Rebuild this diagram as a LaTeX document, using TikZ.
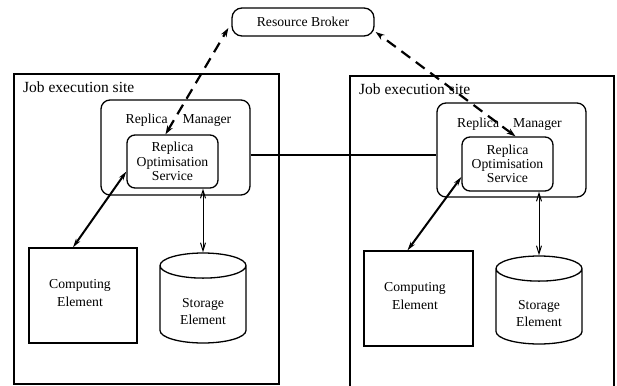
\documentclass[tikz,border=0pt]{standalone}
\usepackage{fontspec}
\setmainfont{Liberation Serif}
\usetikzlibrary{positioning,calc,shapes.geometric,arrows.meta}
\tikzset{
    box/.style={draw, line width=1.3pt, inner sep=0pt, align=center, font=\fontsize{13.7}{17.5}\selectfont},
    sitebox/.style={draw, line width=1.3pt, inner sep=0pt},
    rmbox/.style={box, rounded corners=9pt},
    rosbox/.style={box, rounded corners=8pt, font=\fontsize{13.7}{14.3}\selectfont},
    store/.style={box, cylinder, shape border rotate=90, aspect=0.55, anchor=shape center},
    sitelabel/.style={anchor=west, inner sep=0pt, font=\fontsize{15.5}{18}\selectfont},
    rmlabel/.style={inner sep=0pt, align=center, font=\fontsize{13.7}{17.3}\selectfont}
}
\newcommand{\storephantom}{\phantom{Storage}\\\phantom{Element}}

\begin{document}
\begin{tikzpicture}[
        x=1pt, y=-1pt,
        % Style cho mui ten
        thickarrow/.style={line width=2pt, {Stealth[length=9pt,width=5pt,open]}-{Stealth[length=9pt,width=5pt,open]}},
        thinarrow/.style={line width=1pt, {Straight Barb[length=8pt,width=5pt]}-{Straight Barb[length=8pt,width=5pt]}},
        brokerarrow/.style={line width=2.2pt, dash pattern=on 11pt off 7pt,
            {Stealth[length=9pt,width=6pt]}-{Stealth[length=9pt,width=6pt]}}
    ]
        \clip (0,0) rectangle (617,385);

        % --- RESOURCE BROKER ---
        \node[box, rounded corners=10pt, minimum width=142pt, minimum height=28pt] (rb) at (303,22) {Resource Broker};

        % --- SITE TRAI ---
        \node[sitebox, minimum width=265pt, minimum height=310pt] (lsite) at (146.5,229) {};
        \node[sitelabel] (lsitetxt) at (23,87) {Job execution site};
        \node[rmbox, minimum width=149pt, minimum height=95pt] (lrm) at (175.5,147.5) {};
        \node[rmlabel] (lrmtxt) at (178.5,120) {Replica\hspace{15pt}Manager};
        \node[rosbox, minimum width=91pt, minimum height=53pt] (lros) at (172.5,161.5) {Replica\\Optimisation\\Service};
        \node[box, minimum width=108pt, minimum height=95pt] (lce) at (83,295.5) {};
        \node[rmlabel] (lcetxt) at (80,293) {Computing\\Element};
        \node[store, minimum width=86pt, minimum height=90pt] (lse) at (203,298) {\storephantom};
        \node[rmlabel] (lsetxt) at (203,311.5) {Storage\\Element};

        % --- SITE PHAI ---
        \node[sitebox, minimum width=264pt, minimum height=330pt] (rsite) at (482,241) {};
        \node[sitelabel] (rsitetxt) at (359,89) {Job execution site};
        \node[rmbox, minimum width=149pt, minimum height=94pt] (rrm) at (511.5,150) {};
        \node[rmlabel] (rrmtxt) at (509.5,124) {Replica\hspace{14pt}Manager};
        \node[rosbox, minimum width=91pt, minimum height=54pt] (rros) at (507.5,164) {Replica\\Optimisation\\Service};
        \node[box, minimum width=109pt, minimum height=95pt] (rce) at (418.5,298.5) {};
        \node[rmlabel] (rcetxt) at (415,296) {Computing\\Element};
        \node[store, minimum width=86pt, minimum height=88pt] (rse) at (539,300) {\storephantom};
        \node[rmlabel] (rsetxt) at (539,313.5) {Storage\\Element};

        % --- KET NOI ---
        \draw[line width=1.8pt] (lrm.east |- 0,155) -- (rrm.west |- 0,155);
        \draw[brokerarrow] ([xshift=-7pt]lros.north) -- ([xshift=-3pt,yshift=-6pt]rb.west);
        \draw[brokerarrow] ([xshift=8pt]rros.north) -- ([xshift=1pt,yshift=-10pt]rb.east);
        \draw[thickarrow] ([yshift=-10pt]lros.west) -- ([xshift=-10pt]lce.north);
        \draw[thickarrow] ([yshift=-13pt]rros.west) -- ([xshift=-11pt]rce.north);
        \draw[thinarrow] (lse.north |- lros.south) -- (lse.north);
        \draw[thinarrow] (rse.north |- rros.south) -- (rse.north);

    \end{tikzpicture}
\end{document}
